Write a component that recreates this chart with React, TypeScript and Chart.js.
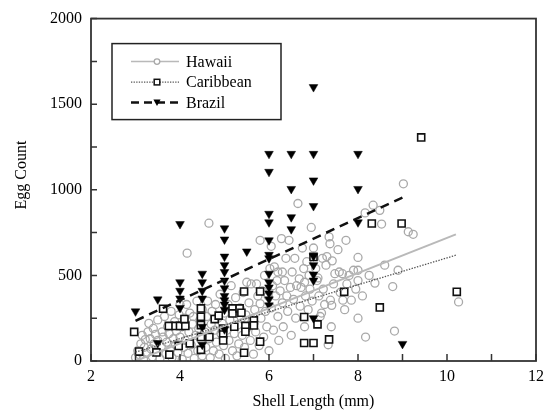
import React, { useEffect, useRef } from 'react';
import { Chart, registerables } from 'chart.js';
Chart.register(...registerables);

const FONT = '"Liberation Serif", "Times New Roman", serif';

const seriesNames = ['Hawaii', 'Caribbean', 'Brazil'];
const xTitle = 'Shell Length (mm)';
const yTitle = 'Egg Count';
const xRange = [2, 12];
const yRange = [0, 2000];
const xMinorStep = 1;
const xLabelStep = 2;
const yMinorStep = 250;
const yLabelStep = 500;

const hawaii: [number, number][] = [
  [3.0, 20], [3.05, 60], [3.1, 35], [3.12, 100], [3.15, 150], [3.18, 10], [3.2, 80], [3.22, 125], [3.25, 45], [3.28, 170],
  [3.3, 220], [3.33, 130], [3.35, 70], [3.38, 25], [3.4, 190], [3.42, 100], [3.45, 155], [3.48, 55], [3.5, 240], [3.5, 120],
  [3.55, 15], [3.58, 85], [3.6, 170], [3.62, 140], [3.65, 260], [3.68, 40], [3.7, 110], [3.72, 200], [3.75, 160], [3.78, 65],
  [3.8, 290], [3.82, 20], [3.85, 130], [3.88, 230], [3.9, 95], [3.92, 175], [3.95, 50], [3.98, 270], [4.0, 140], [4.0, 330],
  [4.05, 10], [4.05, 200], [4.08, 80], [4.1, 250], [4.12, 120], [4.15, 330], [4.16, 630], [4.18, 45], [4.2, 170], [4.22, 280],
  [4.25, 95], [4.28, 215], [4.3, 260], [4.32, 15], [4.35, 150], [4.38, 350], [4.4, 60], [4.42, 190], [4.45, 240], [4.48, 120],
  [4.5, 30], [4.5, 300], [4.55, 170], [4.58, 80], [4.6, 260], [4.62, 350], [4.65, 805], [4.65, 130], [4.68, 20], [4.7, 215],
  [4.72, 290], [4.75, 60], [4.78, 180], [4.8, 330], [4.82, 110], [4.85, 250], [4.88, 40], [4.9, 390], [4.92, 160], [4.95, 220],
  [4.98, 90], [5.0, 280], [5.02, 15], [5.05, 180], [5.08, 330], [5.1, 120], [5.12, 240], [5.15, 440], [5.18, 60], [5.2, 290],
  [5.22, 160], [5.25, 370], [5.28, 30], [5.3, 210], [5.32, 100], [5.35, 310], [5.38, 250], [5.4, 150], [5.42, 400], [5.45, 80],
  [5.48, 270], [5.5, 460], [5.5, 190], [5.55, 340], [5.58, 120], [5.6, 450], [5.62, 230], [5.65, 40], [5.68, 300], [5.7, 170],
  [5.72, 450], [5.75, 380], [5.78, 90], [5.8, 335], [5.8, 705], [5.82, 250], [5.85, 410], [5.88, 140], [5.9, 500], [5.92, 290],
  [5.95, 200], [5.98, 380], [6.0, 60], [6.02, 540], [6.05, 670], [6.05, 310], [6.08, 440], [6.1, 180], [6.12, 550], [6.15, 380],
  [6.18, 470], [6.2, 520], [6.2, 260], [6.22, 120], [6.25, 410], [6.28, 715], [6.3, 520], [6.3, 340], [6.32, 200], [6.35, 470],
  [6.38, 600], [6.4, 380], [6.42, 290], [6.45, 705], [6.48, 430], [6.5, 150], [6.52, 520], [6.55, 360], [6.58, 600], [6.6, 250],
  [6.62, 440], [6.65, 920], [6.68, 480], [6.7, 320], [6.72, 430], [6.75, 660], [6.78, 540], [6.8, 460], [6.8, 200], [6.82, 380],
  [6.85, 580], [6.88, 300], [6.9, 500], [6.92, 420], [6.95, 780], [6.97, 350], [7.0, 660], [7.05, 540], [7.08, 470], [7.1, 485],
  [7.12, 380], [7.15, 260], [7.18, 280], [7.2, 600], [7.22, 420], [7.25, 330], [7.28, 560], [7.3, 610], [7.33, 95], [7.35, 725],
  [7.37, 685], [7.38, 355], [7.4, 200], [7.41, 325], [7.42, 585], [7.45, 450], [7.48, 510], [7.55, 650], [7.58, 520], [7.6, 400],
  [7.65, 510], [7.66, 355], [7.7, 300], [7.73, 705], [7.75, 450], [7.8, 500], [7.85, 355], [7.9, 530], [7.95, 420], [8.0, 530],
  [8.0, 605], [8.0, 470], [8.0, 250], [8.1, 380], [8.16, 865], [8.17, 140], [8.25, 500], [8.34, 910], [8.38, 455], [8.49, 880],
  [8.53, 800], [8.6, 560], [8.78, 435], [8.82, 175], [8.9, 530], [9.02, 1035], [9.13, 755], [9.24, 740], [10.26, 345],
];

const caribbean: [number, number][] = [
  [2.97, 170], [3.08, 55], [3.47, 50], [3.62, 305], [3.75, 205], [3.9, 205], [4.0, 205], [4.12, 205], [4.1, 245], [3.76, 37],
  [3.97, 88], [4.22, 103], [4.47, 307], [4.47, 258], [4.47, 210], [4.47, 140], [4.47, 65], [4.66, 140], [4.78, 245], [4.87, 265],
  [4.97, 190], [4.97, 155], [4.97, 120], [5.18, 307], [5.18, 278], [5.34, 307], [5.38, 282], [5.22, 200], [5.47, 205], [5.47, 171],
  [5.44, 406], [5.66, 237], [5.66, 208], [5.8, 406], [5.8, 113], [5.44, 48], [6.79, 257], [6.79, 105], [7.0, 105], [7.0, 608],
  [7.09, 214], [7.35, 126], [7.69, 404], [8.31, 803], [8.98, 803], [8.49, 313], [9.42, 1306], [10.22, 404],
];

const brazil: [number, number][] = [
  [3, 290], [3.5, 360], [3.5, 105], [4, 800], [4, 460], [4, 410], [4, 365], [4, 310], [4.5, 510], [4.5, 460],
  [4.5, 410], [4.5, 365], [4.5, 200], [4.5, 95], [5, 775], [5, 710], [5, 610], [5, 560], [5, 520], [5, 470],
  [5, 425], [5, 380], [5, 355], [5, 330], [5, 300], [5, 185], [5.5, 640], [6, 1210], [6, 1105], [6, 860],
  [6, 810], [6, 705], [6, 620], [6, 600], [6, 510], [6, 460], [6, 430], [6, 395], [6, 360], [6, 325],
  [6.5, 1210], [6.5, 1005], [6.5, 840], [6.5, 770], [7, 1600], [7, 1210], [7, 1055], [7, 905], [7, 612], [7, 560],
  [7, 505], [7, 470], [7, 250], [8, 1210], [8, 1005], [8, 810], [9, 100],
];

const hawaiiFitX = [3.0, 10.2];
const hawaiiFitY = [0, 740];
const caribbeanFitX = [3.0, 10.2];
const caribbeanFitY = [52, 618];
const brazilFitX = [3.0, 9.0];
const brazilFitY = [235, 955];

const toPts = (arr: [number, number][]) => arr.map(([x, y]) => ({ x, y }));
const fitPts = (xs: number[], ys: number[]) => xs.map((x, i) => ({ x, y: ys[i] }));

const HAWAII_GRAY = '#a9a9a9';
const HAWAII_LINE = '#b9b9b9';

const drawMarker = (ctx: CanvasRenderingContext2D, kind: string, x: number, y: number) => {
  ctx.save();
  if (kind === 'circle') {
    ctx.strokeStyle = HAWAII_GRAY;
    ctx.lineWidth = 1.3;
    ctx.fillStyle = '#fff';
    ctx.beginPath();
    ctx.arc(x, y, 2.8, 0, Math.PI * 2);
    ctx.fill();
    ctx.stroke();
  } else if (kind === 'rect') {
    ctx.strokeStyle = '#111';
    ctx.lineWidth = 1.5;
    ctx.fillStyle = '#fff';
    ctx.fillRect(x - 2.8, y - 2.8, 5.6, 5.6);
    ctx.strokeRect(x - 2.8, y - 2.8, 5.6, 5.6);
  } else {
    ctx.fillStyle = '#000';
    ctx.beginPath();
    ctx.moveTo(x - 3.6, y - 3);
    ctx.lineTo(x + 3.6, y - 3);
    ctx.lineTo(x, y + 3.5);
    ctx.closePath();
    ctx.fill();
  }
  ctx.restore();
};

const decorPlugin = {
  id: 'decor',
  afterDraw(chart: any) {
    const { ctx, chartArea: a, scales } = chart;
    ctx.save();
    // frame
    ctx.strokeStyle = '#333';
    ctx.lineWidth = 1.8;
    ctx.strokeRect(a.left, a.top, a.right - a.left, a.bottom - a.top);
    // inward ticks
    ctx.lineWidth = 1.5;
    ctx.beginPath();
    for (let v = xRange[0]; v <= xRange[1]; v += xMinorStep) {
      const px = scales.x.getPixelForValue(v);
      ctx.moveTo(px, a.bottom);
      ctx.lineTo(px, a.bottom - 7);
    }
    for (let v = yRange[0]; v <= yRange[1]; v += yMinorStep) {
      const py = scales.y.getPixelForValue(v);
      ctx.moveTo(a.left, py);
      ctx.lineTo(a.left + 6, py);
    }
    ctx.stroke();
    // y title
    ctx.save();
    ctx.translate(22, 175);
    ctx.rotate(-Math.PI / 2);
    ctx.font = `16px ${FONT}`;
    ctx.fillStyle = '#000';
    ctx.textAlign = 'center';
    ctx.textBaseline = 'middle';
    ctx.fillText(yTitle, 0, 0);
    ctx.restore();
    // legend
    const lx = a.left + 21, ly = a.top + 25, lw = 169, lh = 76;
    ctx.fillStyle = '#fff';
    ctx.fillRect(lx, ly, lw, lh);
    ctx.strokeStyle = '#222';
    ctx.lineWidth = 1.5;
    ctx.strokeRect(lx, ly, lw, lh);
    const styles = [
      { color: HAWAII_LINE, width: 1.5, dash: [] as number[], marker: 'circle' },
      { color: '#555', width: 1.2, dash: [1.3, 1.3], marker: 'rect' },
      { color: '#111', width: 2.5, dash: [8, 5], marker: 'triangle' },
    ];
    seriesNames.forEach((name, i) => {
      const y = ly + 18 + i * 20.5;
      const s = styles[i];
      ctx.save();
      ctx.strokeStyle = s.color;
      ctx.lineWidth = s.width;
      ctx.setLineDash(s.dash);
      ctx.beginPath();
      ctx.moveTo(lx + 19, y);
      ctx.lineTo(lx + 67, y);
      ctx.stroke();
      ctx.restore();
      drawMarker(ctx, s.marker, lx + 45, y);
      ctx.font = `16px ${FONT}`;
      ctx.fillStyle = '#000';
      ctx.textAlign = 'left';
      ctx.textBaseline = 'middle';
      ctx.fillText(name, lx + 74, y + 1);
    });
    ctx.restore();
  },
};

export default function App() {
  const ref = useRef<HTMLCanvasElement | null>(null);
  useEffect(() => {
    if (!ref.current) return;
    const chart = new Chart(ref.current, {
      type: 'scatter',
      data: {
        datasets: [
          {
            label: seriesNames[2] + ' fit', type: 'line', data: fitPts(brazilFitX, brazilFitY),
            borderColor: '#111', borderWidth: 2.5, borderDash: [9, 6], pointRadius: 0, fill: false, order: 0,
          } as any,
          {
            label: seriesNames[1] + ' fit', type: 'line', data: fitPts(caribbeanFitX, caribbeanFitY),
            borderColor: '#555', borderWidth: 1.3, borderDash: [1.4, 1.4], pointRadius: 0, fill: false, order: 1,
          } as any,
          {
            label: seriesNames[0] + ' fit', type: 'line', data: fitPts(hawaiiFitX, hawaiiFitY),
            borderColor: HAWAII_LINE, borderWidth: 2, pointRadius: 0, fill: false, order: 2,
          } as any,
          {
            label: seriesNames[2], data: toPts(brazil), pointStyle: 'triangle', rotation: 180,
            pointRadius: 5, backgroundColor: '#000', borderColor: '#000', borderWidth: 0.5, order: 3,
          } as any,
          {
            label: seriesNames[1], data: toPts(caribbean), pointStyle: 'rect',
            pointRadius: 5, backgroundColor: '#fff', borderColor: '#111', borderWidth: 1.6, order: 4,
          } as any,
          {
            label: seriesNames[0], data: toPts(hawaii), pointStyle: 'circle',
            pointRadius: 4, backgroundColor: 'rgba(255,255,255,0)', borderColor: HAWAII_GRAY, borderWidth: 1.3, order: 5,
          } as any,
        ],
      },
      options: {
        responsive: false,
        animation: false,
        devicePixelRatio: 1,
        layout: { padding: { left: 0, top: 18, right: 14, bottom: 0 } },
        plugins: { legend: { display: false }, tooltip: { enabled: false } },
        scales: {
          x: {
            type: 'linear', min: xRange[0], max: xRange[1],
            grid: { display: false, drawTicks: false },
            border: { display: false },
            ticks: {
              stepSize: xMinorStep, autoSkip: false, maxRotation: 0, padding: 6, color: '#000',
              font: { family: FONT, size: 16 },
              callback: (v: any) => (Number(v) % xLabelStep === 0 ? String(v) : ''),
            },
            title: { display: true, text: xTitle, color: '#000', font: { family: FONT, size: 16 }, padding: { top: 0, bottom: 1 } },
            afterFit: (s: any) => { s.height = 51; },
          },
          y: {
            type: 'linear', min: yRange[0], max: yRange[1],
            grid: { display: false, drawTicks: false },
            border: { display: false },
            ticks: {
              stepSize: yMinorStep, autoSkip: false, padding: 9, color: '#000',
              font: { family: FONT, size: 16 },
              callback: (v: any) => (Number(v) % yLabelStep === 0 ? String(v) : ''),
            },
            afterFit: (s: any) => { s.width = 91; },
          },
        },
      },
      plugins: [decorPlugin],
    } as any);
    return () => chart.destroy();
  }, []);
  return (
    <div style={{ position: 'absolute', left: 0, top: 0, width: 550, height: 412, background: '#fff' }}>
      <canvas ref={ref} width={550} height={412} style={{ display: 'block' }} />
    </div>
  );
}
